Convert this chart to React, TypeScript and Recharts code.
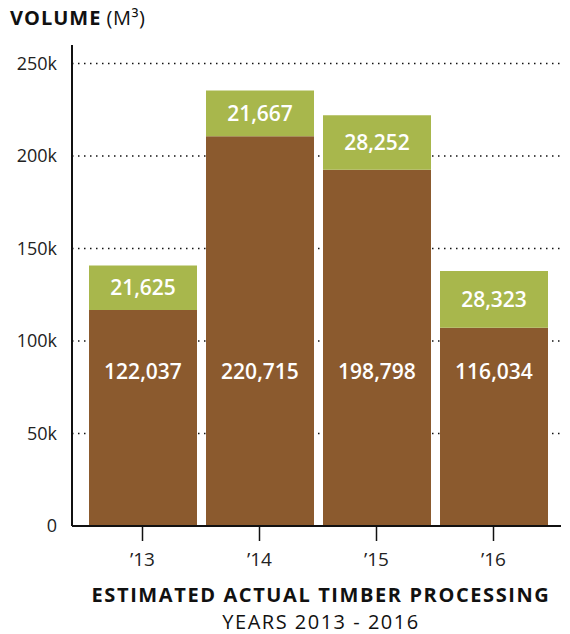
import { BarChart, Bar, XAxis, YAxis, CartesianGrid, LabelList } from 'recharts';

// values
const years = ['’13', '’14', '’15', '’16'];
const processedBar = [116800, 210700, 192600, 107200];
const extraBar = [24000, 24700, 29400, 30700];

// labels printed on the bars
const processedLabels = ['122,037', '220,715', '198,798', '116,034'];
const extraLabels = ['21,625', '21,667', '28,252', '28,323'];

const yTicks = [0, 50000, 100000, 150000, 200000, 250000];

const BROWN = '#8b5a2e';
const GREEN = '#a8b74c';
const FONT = '"Open Sans", sans-serif';

const data = years.map((year, i) => ({
    year,
    processed: processedBar[i],
    extra: extraBar[i],
    processedLabel: processedLabels[i],
    extraLabel: extraLabels[i],
}));

const fmtK = (v: number) => (v === 0 ? '0' : `${v / 1000}k`);

// brown labels sit at the same height on every bar, measured from the base
const BottomLabel = (props: any) => {
    const { x, y, width, height, value } = props;
    return (
        <text
            x={x + width / 2}
            y={y + height - 155}
            fill="#fff"
            textAnchor="middle"
            dominantBaseline="central"
            fontFamily={FONT}
            fontWeight={600}
            fontSize={21}
        >
            {value}
        </text>
    );
};

export default function App() {
    return (
        <div style={{ position: 'absolute', left: 0, top: 0, width: 570, height: 634, background: '#fff', fontFamily: FONT }}>
            <div style={{ position: 'absolute', left: 10, top: 4, fontSize: 20, color: '#111', whiteSpace: 'nowrap' }}>
                <span style={{ fontWeight: 700, letterSpacing: 1 }}>VOLUME</span> <span style={{ letterSpacing: 0.5 }}>(M³)</span>
            </div>

            <BarChart
                width={570}
                height={634}
                data={data}
                margin={{ top: 45, right: 9, left: 0, bottom: 68 }}
                style={{ position: 'absolute', left: 0, top: 0 }}
            >
                <CartesianGrid
                    vertical={false}
                    stroke="#111"
                    strokeWidth={1.5}
                    strokeDasharray="1.5 4.5"
                    horizontalValues={[50000, 100000, 150000, 200000, 250000]}
                />
                <XAxis
                    dataKey="year"
                    padding={{ left: 12, right: 9 }}
                    height={40}
                    axisLine={{ stroke: '#111', strokeWidth: 2 }}
                    tickLine={{ stroke: '#111', strokeWidth: 1.5 }}
                    tickSize={15}
                    tickMargin={12}
                    tick={{ fontSize: 19, fill: '#222', fontFamily: FONT }}
                />
                <YAxis
                    width={72}
                    domain={[0, 260000]}
                    ticks={yTicks}
                    tickFormatter={fmtK}
                    axisLine={{ stroke: '#111', strokeWidth: 2 }}
                    tickLine={false}
                    tickMargin={9}
                    tick={{ fontSize: 18, fill: '#222', fontFamily: FONT }}
                />
                <Bar dataKey="processed" stackId="a" fill={BROWN} barSize={108} isAnimationActive={false}>
                    <LabelList dataKey="processedLabel" content={BottomLabel} />
                </Bar>
                <Bar dataKey="extra" stackId="a" fill={GREEN} barSize={108} isAnimationActive={false}>
                    <LabelList
                        dataKey="extraLabel"
                        position="center"
                        fill="#fff"
                        style={{ fontFamily: FONT, fontWeight: 600, fontSize: 21 }}
                    />
                </Bar>
            </BarChart>

            <div style={{ position: 'absolute', left: 0, width: 642, top: 581, textAlign: 'center', fontSize: 20, fontWeight: 700, letterSpacing: 1.6, color: '#111', whiteSpace: 'nowrap' }}>
                ESTIMATED ACTUAL TIMBER PROCESSING
            </div>
            <div style={{ position: 'absolute', left: 0, width: 642, top: 608, textAlign: 'center', fontSize: 20, letterSpacing: 1.5, color: '#111', whiteSpace: 'nowrap' }}>
                YEARS 2013 - 2016
            </div>
        </div>
    );
}
